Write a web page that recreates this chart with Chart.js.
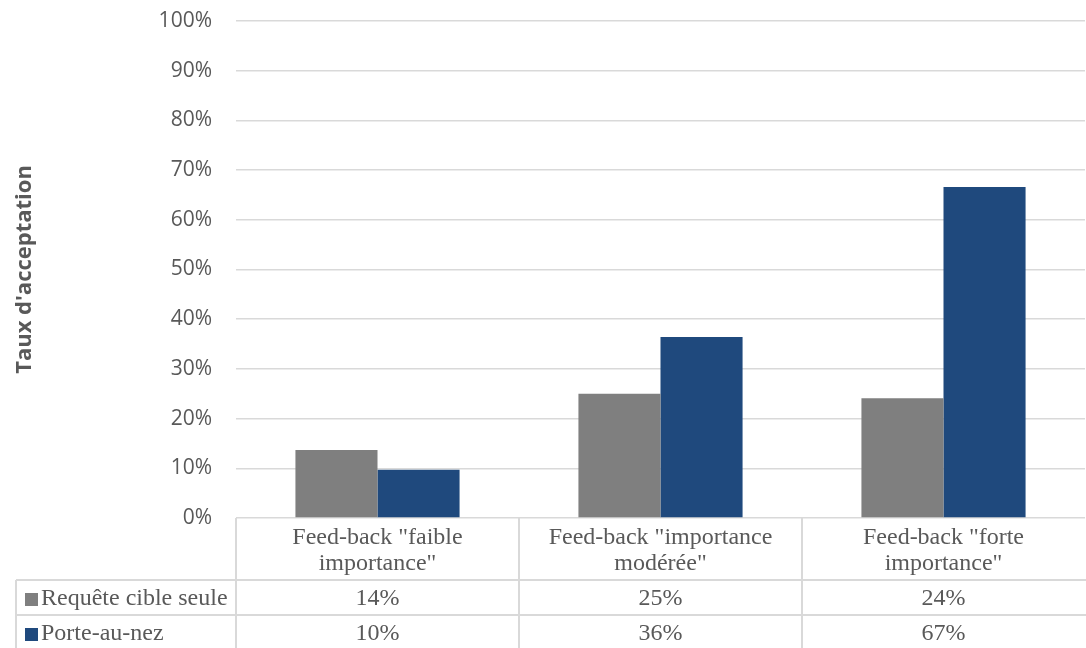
<!DOCTYPE html>
<html>
<head>
<meta charset="utf-8">
<script src="https://cdn.jsdelivr.net/npm/chart.js@4"></script>
<style>
  html, body { margin: 0; padding: 0; background: #fff; }
  #wrap { width: 1086px; height: 648px; }
</style>
</head>
<body>
<div id="wrap"><canvas id="chart" width="1086" height="648"></canvas></div>
<script>
// --- Data ---
const categories = [
    ['Feed-back "faible', 'importance"'],
    ['Feed-back "importance', 'modérée"'],
    ['Feed-back "forte', 'importance"']
];
const seriesNames = ['Requête cible seule', 'Porte-au-nez'];
const requeteSeule = [13.7, 25.0, 24.1];
const porteAuNez = [9.7, 36.4, 66.6];
const tableRequete = ['14%', '25%', '24%'];
const tablePorte = ['10%', '36%', '67%'];

const GRID = '#d9d9d9';
const TEXT = '#595959';
const COLORS = ['#7f7f7f', '#1f497d'];

// --- Data table drawn under the plot, aligned on the x scale ---
const dataTablePlugin = {
    id: 'dataTable',
    afterDraw(chart) {
        const ctx = chart.ctx;
        const area = chart.chartArea;
        const xs = chart.scales.x;
        const colW = xs.width / categories.length;
        const row1 = 580, row2 = 615, bottom = 648, left = 16;

        ctx.save();
        ctx.strokeStyle = GRID;
        ctx.lineWidth = 2;
        ctx.beginPath();
        // vertical lines between columns (the right edge falls off the picture)
        for (let i = 0; i < categories.length; i++) {
            const x = Math.round(xs.left + i * colW);
            ctx.moveTo(x, area.bottom);
            ctx.lineTo(x, bottom);
        }
        ctx.moveTo(left, row1);
        ctx.lineTo(left, bottom);
        [row1, row2].forEach(y => {
            ctx.moveTo(left, y);
            ctx.lineTo(area.right + 1, y);
        });
        ctx.stroke();

        ctx.fillStyle = TEXT;
        ctx.font = '24px "Liberation Serif"';
        ctx.textAlign = 'center';
        ctx.textBaseline = 'middle';
        categories.forEach((lines, i) => {
            const cx = xs.getPixelForValue(i);
            ctx.fillText(lines[0], cx, 538);
            ctx.fillText(lines[1], cx, 564);
            ctx.fillText(tableRequete[i], cx, 599);
            ctx.fillText(tablePorte[i], cx, 634);
        });

        // legend keys in the row headers
        ctx.textAlign = 'left';
        [row1, row2].forEach((y, k) => {
            const mid = y + 19;
            ctx.fillStyle = COLORS[k];
            ctx.fillRect(25, mid - 6, 13, 13);
            ctx.fillStyle = TEXT;
            ctx.fillText(seriesNames[k], 41, mid);
        });
        ctx.restore();
    }
};

new Chart(document.getElementById('chart'), {
    type: 'bar',
    data: {
        labels: categories,
        datasets: [
            { label: seriesNames[0], data: requeteSeule, backgroundColor: COLORS[0] },
            { label: seriesNames[1], data: porteAuNez, backgroundColor: COLORS[1] }
        ]
    },
    options: {
        responsive: false,
        animation: false,
        layout: { padding: { top: 21, right: 1, bottom: 130, left: 0 } },
        datasets: { bar: { categoryPercentage: 0.58, barPercentage: 1.0 } },
        plugins: { legend: { display: false }, tooltip: { enabled: false } },
        scales: {
            x: { display: false },
            y: {
                min: 0,
                max: 100,
                afterFit: (scale) => {
                    scale.width = 236;
                    scale.paddingTop = 0;
                    scale.paddingBottom = 0;
                },
                border: { display: false },
                grid: { color: GRID, lineWidth: 1.5, drawTicks: false },
                ticks: {
                    stepSize: 10,
                    padding: 24,
                    color: TEXT,
                    font: { family: 'Open Sans', size: 21 },
                    callback: (v) => v + '%'
                },
                title: {
                    display: true,
                    text: "Taux d'acceptation",
                    color: TEXT,
                    font: { family: 'Open Sans', size: 22, weight: 'bold' },
                    padding: { top: 12, bottom: 0 }
                }
            }
        }
    },
    plugins: [dataTablePlugin]
});
</script>
</body>
</html>
